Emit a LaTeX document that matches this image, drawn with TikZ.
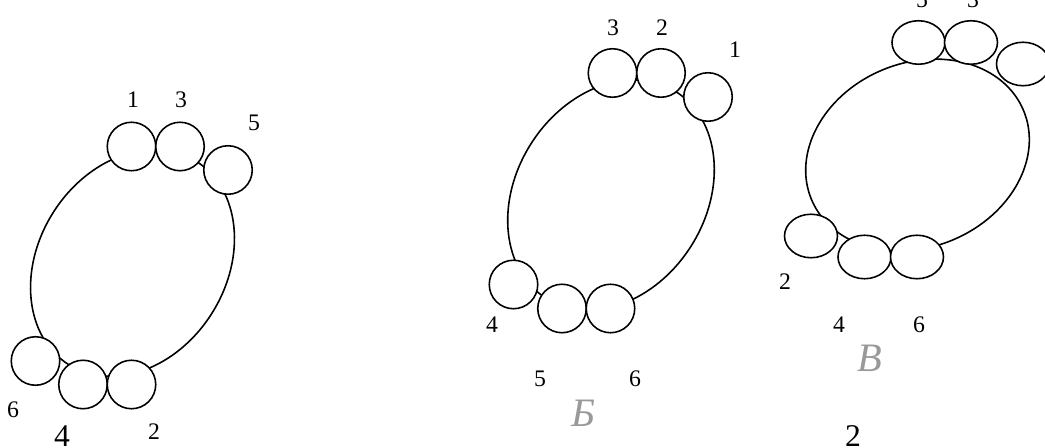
\documentclass[tikz,border=0pt]{standalone}
\usepackage{fontspec}
\setmainfont{Liberation Serif}
\usetikzlibrary{positioning, shapes.geometric}

\begin{document}
\begin{tikzpicture}[x=0.02cm, y=-0.02cm, node distance=0.97cm, on grid, line width=0.9pt,
    ball/.style={circle, draw, fill=white, minimum size=0.97cm, inner sep=0pt},
    egg/.style={ellipse, draw, fill=white, minimum width=1.06cm, minimum height=0.87cm, inner sep=0pt},
    num/.style={font=\fontsize{13.5}{15}\selectfont},
    big/.style={font=\fontsize{18}{20}\selectfont},
    hand/.style={font=\fontsize{23}{25}\selectfont\itshape, text=black!40}]
    \path[use as bounding box, clip] (0,0) rectangle (1045,448);

    % rings
    \draw[shift={(132.5,263)}, rotate=58] (0,0) ellipse [x radius=120, y radius=94];
    \draw[shift={(611,195)}, rotate=58] (0,0) ellipse [x radius=122, y radius=95];
    \draw[shift={(917.5,155)}, rotate=23] (0,0) ellipse [x radius=115, y radius=92];

    % first ring
    \node[ball] (a1) at (131.5,146.5) {};
    \node[ball] (a3) [right=of a1] {};
    \node[ball] (a5) at (228,170) {};
    \node[ball] (a6) at (35.5,361) {};
    \node[ball] (a4) at (83,384.5) {};
    \node[ball] (a2) [right=of a4] {};

    % ring B
    \node[ball] (b3) at (612.5,73) {};
    \node[ball] (b2) [right=of b3] {};
    \node[ball] (b1) at (708,97) {};
    \node[ball] (b4) at (513.5,284.5) {};
    \node[ball] (b5) at (562,308.5) {};
    \node[ball] (b6) [right=of b5] {};

    % ring V
    \node[egg] (c5) at (918.5,42.5) {};
    \node[egg] (c3) [right=1.05cm of c5] {};
    \node[egg] (c1) at (1023,64) {};
    \node[egg] (c2) at (811,236) {};
    \node[egg] (c4) at (864.5,257) {};
    \node[egg] (c6) [right=1.05cm of c4] {};

    % labels
    \node[num] (la1) at (133,100) {1};
    \node[num] (la3) at (181,100) {3};
    \node[num] (la5) at (254,123) {5};
    \node[num] (la6) at (13,410) {6};
    \node[big] (la4) at (62,436) {4};
    \node[num] (la2) at (154,432) {2};

    \node[num] (lb3) at (613,28) {3};
    \node[num] (lb2) at (662,28) {2};
    \node[num] (lb1) at (735,50) {1};
    \node[num] (lb4) at (492,325) {4};
    \node[num] (lb5) at (540,379) {5};
    \node[num] (lb6) at (635,379) {6};
    \node[hand] (tagb) at (583,413) {Б};

    \node[num] (lc5) at (922,0) {5};
    \node[num] (lc3) at (973,0) {3};
    \node[num] (lc2) at (785,282) {2};
    \node[num] (lc4) at (839,325) {4};
    \node[num] (lc6) at (919,325) {6};
    \node[hand] (tagv) at (870,358) {В};
    \node[big] (lc) at (853,436) {2};
\end{tikzpicture}
\end{document}
